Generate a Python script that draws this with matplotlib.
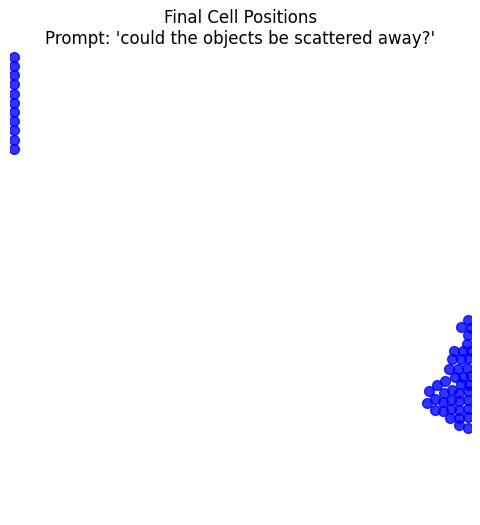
import matplotlib
matplotlib.use("Agg")
import matplotlib.pyplot as plt

# cell positions (arena units)
column_x = [4] * 11
column_y = [458, 449, 440, 431, 421, 412, 403, 394, 385, 375, 366]

cluster_x = [458, 451, 461, 458, 457,
             444, 453, 461,
             442, 451, 459,
             439, 448, 457,
             445, 453, 461,
             435, 427, 419,
             451, 459,
             434, 442, 449, 458,
             417, 425, 433, 441, 449, 458,
             425, 433, 441, 449, 458,
             440, 449, 458,
             449, 458]
cluster_y = [195, 188, 187, 180, 171,
             164, 164, 164,
             156, 156, 157,
             146, 146, 147,
             138, 138, 139,
             134, 130, 124,
             131, 130,
             122, 125, 122, 124,
             112, 116, 113, 115, 114, 115,
             105, 104, 106, 105, 106,
             97, 97, 98,
             90, 87]

xs = column_x + cluster_x
ys = column_y + cluster_y

fig = plt.figure(figsize=(4.81, 5.25), dpi=100)
ax = fig.add_axes([10 / 481, 10 / 525, 461 / 481, 463 / 525])
ax.scatter(xs, ys, s=50, c="blue", alpha=0.8)
ax.set_xlim(0, 461)
ax.set_ylim(0, 463)
ax.set_title("Final Cell Positions\nPrompt: 'could the objects be scattered away?'")
ax.axis("off")
fig.savefig("out.png", dpi=100)
